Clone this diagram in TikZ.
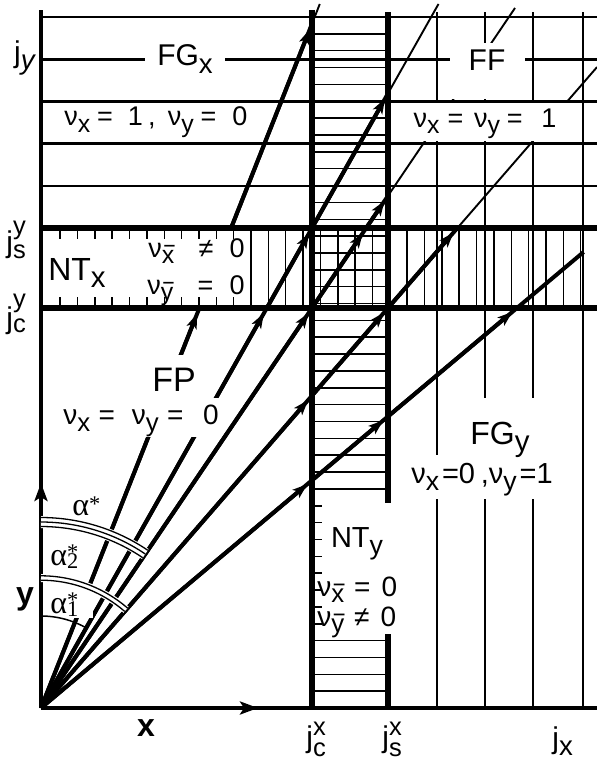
\documentclass[tikz,border=0pt]{standalone}
\usepackage{fontspec}
\setmainfont{Liberation Sans}
\newfontfamily\serifgr{Liberation Serif}
\usetikzlibrary{arrows.meta,calc}
\newcommand\sbx[1]{\raisebox{-0.45ex}{\scalebox{0.92}{#1}}}
\newcommand\spx[1]{\raisebox{0.1em}{\scalebox{0.7}{#1}}}
\newcommand\sbm[1]{\raisebox{-0.45ex}{\scalebox{0.92}{\makebox[0pt][l]{\raisebox{0.45em}{\hspace{0.1em}\scalebox{0.75}[1]{\textendash}}}#1}}}
\newcommand\jsp[4]{j\makebox[0pt][l]{\raisebox{#3}{\scalebox{0.85}{#2}}}\raisebox{#4}{\scalebox{0.85}{#1}}}
\newcommand\gsp[2]{\makebox[0pt][l]{\raisebox{0.16em}{\scalebox{0.7}{#2}}}\raisebox{-0.1em}{\scalebox{0.7}{#1}}}
\begin{document}
\begin{tikzpicture}[x=0.5pt,y=-0.5pt,
  gridline/.style={line width=1.05pt},
  hatch/.style={line width=0.75pt},
  bound/.style={line width=2.6pt},
  axisline/.style={line width=2.1pt},
  rayk/.style={line width=2pt},
  rayt/.style={line width=0.95pt},
  arr/.style={rayk,-{Stealth[length=7.5pt,width=5.2pt,inset=1.8pt]},shorten >=3pt},
  axarr/.style={axisline,-{Stealth[length=9pt,width=6.5pt,inset=2pt]}},
  bigl/.style={font=\fontsize{15}{18}\selectfont,inner sep=0pt},
  nul/.style={font=\fontsize{13.5}{16}\selectfont,inner sep=0pt},
  greek/.style={font=\serifgr\fontsize{16}{18}\selectfont,inner sep=0pt,anchor=base west},
  axlab/.style={font=\bfseries\fontsize{16}{18}\selectfont,inner sep=0pt},
  whitebox/.style={fill=white,draw=none}]
\useasboundingbox (0,0) rectangle (597,760);
% ---------- coordinates ----------
\coordinate (O) at (41,708);
\coordinate (Ytop) at (41,10);
\coordinate (Yarr) at (41,483);
\coordinate (Xarr) at (258,708);
\coordinate (Xend) at (597,708);
% ---------- thin grid ----------
\foreach \yy in {17,59.5,101.5,143.5,186}
  \draw[gridline] (41,\yy) -- (597,\yy);
\draw[gridline] (437,12) -- (437,455) (437,499) -- (437,708);
\draw[gridline] (485,12) -- (485,398) (485,499) -- (485,708);
\draw[gridline] (533,12) -- (533,398) (533,499) -- (533,708);
\draw[gridline] (583,12) -- (583,708);
% ---------- hatching in column ----------
\foreach \k in {0,...,28,37,38,39,40,41}{
  \pgfmathsetmacro\yy{17+16.854*\k}
  \draw[hatch] (312,\yy) -- (388,\yy);}
\foreach \k in {29,...,36}{
  \pgfmathsetmacro\yy{17+16.854*\k}
  \draw[hatch] (312,\yy) -- (322,\yy);}
% ---------- hatching in band ----------
\foreach \k in {0,...,19}{
  \pgfmathsetmacro\xx{251+17.35*\k}
  \draw[hatch] (\xx,228) -- (\xx,308);}
\foreach \k in {-11,...,-1}{
  \pgfmathsetmacro\xx{251+17.35*\k}
  \draw[hatch] (\xx,228) -- (\xx,239) (\xx,297) -- (\xx,308);}
% ---------- boundaries ----------
\draw[bound] (312,10) -- (312,708);
\draw[bound] (388,12) -- (388,503) (388,634) -- (388,708);
\draw[bound] (41,228) -- (597,228);
\draw[bound] (41,308) -- (597,308);
\draw[axisline] (O) -- (Ytop);
\draw[axisline] (O) -- (Xend);
\draw[axarr] (O) -- (Yarr);
\draw[axarr] (O) -- (Xarr);
% ---------- rays ----------
\coordinate (R1a) at (199.4,308);
\coordinate (R1b) at (231.1,228);
\coordinate (R1c) at (312,23.7);
\coordinate (R1t) at (319.8,4);
\coordinate (R2a) at (266.8,308);
\coordinate (R2b) at (312,228);
\coordinate (R2c) at (388,93.4);
\coordinate (R2t) at (438.5,4);
\coordinate (R3a) at (312,308);
\coordinate (R3b) at (366.2,228);
\coordinate (R3c) at (388,195.8);
\coordinate (R3t) at (515,8);
\coordinate (R4a) at (312,395.6);
\coordinate (R4b) at (388,308);
\coordinate (R4c) at (457.4,228);
\coordinate (R4t) at (597,67.1);
\coordinate (R5a) at (312,480.3);
\coordinate (R5b) at (388,416.4);
\coordinate (R5c) at (517,308);
\coordinate (R5t) at (583.6,252);
% ray 1
\draw[rayk] (O) -- (R1a);
\draw[arr] (O) -- (R1a);
\draw[rayk] (R1b) -- (R1c);
\draw[arr] (R1b) -- (R1c);
\draw[rayt] (R1c) -- (R1t);
% ray 2
\draw[rayk] (O) -- (R2c);
\draw[arr] (O) -- (R2a);
\draw[arr] (R2a) -- (R2b);
\draw[arr] (R2b) -- (R2c);
\draw[rayt] (R2c) -- (R2t);
% ray 3
\draw[rayk] (O) -- (R3c);
\draw[arr] (O) -- (R3a);
\draw[arr] (R3a) -- (R3b);
\draw[arr] (R3b) -- (R3c);
\draw[rayt] (R3c) -- (R3t);
% ray 4
\draw[rayk] (O) -- (R4c);
\draw[arr] (O) -- (R4a);
\draw[arr] (R4a) -- (R4b);
\draw[arr] (R4b) -- (R4c);
\draw[rayt] (R4c) -- (R4t);
% ray 5
\draw[rayk] (O) -- (R5t);
\draw[arr] (O) -- (R5a);
\draw[arr] (R5a) -- (R5b);
\draw[arr] (R5b) -- (R5c);
% ---------- white boxes ----------
\fill[whitebox] (145,52) rectangle (225,67);
\fill[whitebox] (450,43) rectangle (525,99);
\fill[whitebox] (402,103) rectangle (577,141);
\fill[whitebox] (152,355) rectangle (197,398);
\fill[whitebox] (55,398) rectangle (220,437);
\fill[whitebox] (48,586) rectangle (93,618);
% ---------- arcs ----------
\draw[white,line width=6pt] plot[domain=0:34.1,samples=40] ({41+186*sin(\x)},{708-186*cos(\x)});
\foreach \r in {181.5,186,190.5}
  \draw[line width=0.65pt] plot[domain=0:34.1,samples=40] ({41+\r*sin(\x)},{708-\r*cos(\x)});
\draw[white,line width=4pt] plot[domain=0:40.9,samples=40] ({41+130*sin(\x)},{708-130*cos(\x)});
\foreach \r in {127.8,132.2}
  \draw[line width=0.65pt] plot[domain=0:40.9,samples=40] ({41+\r*sin(\x)},{708-\r*cos(\x)});
\draw[line width=0.75pt] plot[domain=0:29.45,samples=30] ({41+92*sin(\x)},{708-92*cos(\x)});
% ---------- labels ----------
\node[bigl,anchor=east] (ljy) at (35,58) {j\sbx{\itshape y}};
\node[bigl,anchor=base west] (ljsy) at (6,252) {\jsp{s}{y}{0.6em}{-0.2em}};
\node[bigl,anchor=base west] (ljcy) at (6,328) {\jsp{c}{y}{0.68em}{-0.15em}};
\node[bigl] (fgx) at (185,59) {FG\sbx{x}};
\node[nul] (nu10) at (156,122) {ν\sbx{x}\hspace{0.25em}=\hspace{0.55em}1\hspace{0.2em},\hspace{0.45em}ν\sbx{y}\hspace{0.25em}=\hspace{0.6em}0};
\node[bigl] (ff) at (487,60) {FF};
\node[nul] (nu11) at (485,124) {ν\sbx{x}\hspace{0.3em}=\hspace{0.4em}ν\sbx{y}\hspace{0.25em}=\hspace{0.7em}1};
\node[bigl,font=\fontsize{16}{19}\selectfont] (ntx) at (77,273) {NT\sbx{x}};
\node[nul,anchor=base east] (ntx1) at (245,257) {ν\sbm{x}\hspace{0.9em}≠\hspace{0.6em}0};
\node[nul,anchor=base east] (ntx2) at (245,294) {ν\sbm{y}\hspace{0.9em}=\hspace{0.6em}0};
\node[bigl,font=\fontsize{17}{20}\selectfont] (fp) at (174,380) {FP};
\node[nul,font=\fontsize{14}{16}\selectfont] (nu00) at (141,421) {ν\sbx{x}\hspace{0.3em}=\hspace{0.6em}ν\sbx{y}\hspace{0.3em}=\hspace{0.7em}0};
\node[bigl,font=\fontsize{16}{19}\selectfont] (fgy) at (500,440) {FG\sbx{y}};
\node[nul,font=\fontsize{14.5}{17}\selectfont] (nu01) at (482,480) {ν\sbx{x}\hspace{0.1em}=0\hspace{0.2em},ν\sbx{y}\hspace{0.1em}=1};
\node[bigl,font=\fontsize{14.5}{17}\selectfont] (nty) at (357,544) {NT\sbx{y}};
\node[nul,anchor=base west,font=\fontsize{14}{16}\selectfont] (nty1) at (317,596) {ν\sbm{x}\hspace{0.35em}=\hspace{0.4em}0};
\node[nul,anchor=base west,font=\fontsize{14}{16}\selectfont] (nty2) at (317,626) {ν\sbm{y}\hspace{0.35em}≠\hspace{0.4em}0};
\node[greek] (al0) at (72,515) {α\spx{*}};
\node[greek] (al2) at (50,565) {α\gsp{2}{*}};
\node[greek] (al1) at (50,613) {α\gsp{1}{*}};
\node[axlab] (ylab) at (25,599) {y};
\node[axlab] (xlab) at (146,728) {x};
\node[bigl,anchor=base west] (jcx) at (306,747) {\jsp{c}{x}{0.4em}{-0.3em}};
\node[bigl,anchor=base west] (jsx) at (382,747) {\jsp{s}{x}{0.4em}{-0.3em}};
\node[bigl,anchor=base west] (jx) at (552,748) {j\sbx{x}};
\end{tikzpicture}
\end{document}
